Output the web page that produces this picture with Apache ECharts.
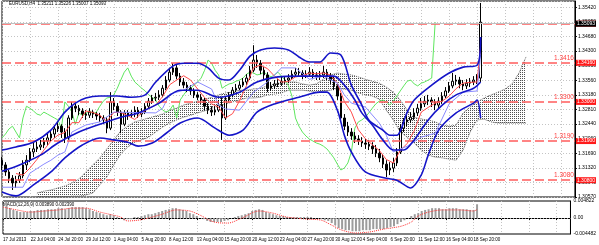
<!DOCTYPE html>
<html><head><meta charset="utf-8">
<script src="https://cdn.jsdelivr.net/npm/echarts@6/dist/echarts.min.js"></script>
<style>html,body{margin:0;padding:0;background:#fff}#c{width:599px;height:245px}</style>
</head><body><div id="c"></div>
<script>
const titleText = 'EURUSD,H4  1.35211 1.35226 1.35007 1.35093';
const macdTitle = 'MACD(12,26,9) 0.003890 0.002390';
const timeLabels = ['17 Jul 2013','22 Jul 04:00','24 Jul 20:00','29 Jul 12:00','1 Aug 04:00','5 Aug 20:00','8 Aug 12:00','13 Aug 04:00','15 Aug 20:00','20 Aug 12:00','23 Aug 04:00','27 Aug 20:00','30 Aug 12:00','4 Sep 04:00','6 Sep 20:00','11 Sep 12:00','16 Sep 04:00','18 Sep 20:00'];
const yTickLabels = ['1.30570','1.30940','1.31320','1.31690','1.32060','1.32440','1.32810','1.33180','1.33560','1.33930','1.34300','1.34680','1.35050','1.35420'];
const macdLabels = {max:'0.004822', zero:'0.00', min:'-0.004482'};

const opens = [1.3151,1.3139,1.3121,1.3105,1.3093,1.3100,1.3111,1.3139,1.3151,1.3172,
1.3180,1.3185,1.3190,1.3200,1.3208,1.3218,1.3231,1.3238,1.3223,1.3208,
1.3259,1.3289,1.3284,1.3277,1.3269,1.3266,1.3274,1.3269,1.3264,1.3259,
1.3254,1.3233,1.3300,1.3289,1.3274,1.3243,1.3272,1.3266,1.3269,1.3279,
1.3269,1.3274,1.3289,1.3302,1.3310,1.3312,1.3318,1.3335,1.3356,1.3376,
1.3387,1.3366,1.3351,1.3343,1.3335,1.3328,1.3318,1.3312,1.3305,1.3289,
1.3279,1.3274,1.3279,1.3292,1.3259,1.3305,1.3318,1.3330,1.3335,1.3343,
1.3351,1.3361,1.3381,1.3407,1.3399,1.3381,1.3369,1.3335,1.3341,1.3346,
1.3348,1.3353,1.3356,1.3361,1.3371,1.3376,1.3374,1.3369,1.3371,1.3376,
1.3369,1.3364,1.3369,1.3376,1.3366,1.3356,1.3341,1.3315,1.3259,1.3238,
1.3223,1.3213,1.3205,1.3200,1.3195,1.3192,1.3187,1.3180,1.3169,1.3157,
1.3141,1.3126,1.3131,1.3144,1.3172,1.3233,1.3249,1.3254,1.3261,1.3272,
1.3284,1.3295,1.3302,1.3305,1.3300,1.3292,1.3302,1.3315,1.3328,1.3341,
1.3353,1.3356,1.3346,1.3341,1.3348,1.3351,1.3356,1.3361];
const closes = [1.3139,1.3121,1.3105,1.3093,1.3100,1.3111,1.3139,1.3151,1.3172,1.3180,
1.3185,1.3190,1.3200,1.3208,1.3218,1.3231,1.3238,1.3223,1.3208,1.3259,
1.3289,1.3284,1.3277,1.3269,1.3266,1.3274,1.3269,1.3264,1.3259,1.3254,
1.3233,1.3300,1.3289,1.3274,1.3243,1.3272,1.3266,1.3269,1.3279,1.3269,
1.3274,1.3289,1.3302,1.3310,1.3312,1.3318,1.3335,1.3356,1.3376,1.3387,
1.3366,1.3351,1.3343,1.3335,1.3328,1.3318,1.3312,1.3305,1.3289,1.3279,
1.3274,1.3279,1.3292,1.3259,1.3305,1.3318,1.3330,1.3335,1.3343,1.3351,
1.3361,1.3381,1.3407,1.3399,1.3381,1.3369,1.3335,1.3341,1.3346,1.3348,
1.3353,1.3356,1.3361,1.3371,1.3376,1.3374,1.3369,1.3371,1.3376,1.3369,
1.3364,1.3369,1.3376,1.3366,1.3356,1.3341,1.3315,1.3259,1.3238,1.3223,
1.3213,1.3205,1.3200,1.3195,1.3192,1.3187,1.3180,1.3169,1.3157,1.3141,
1.3126,1.3131,1.3144,1.3172,1.3233,1.3249,1.3254,1.3261,1.3272,1.3284,
1.3295,1.3302,1.3305,1.3300,1.3292,1.3302,1.3315,1.3328,1.3341,1.3353,
1.3356,1.3346,1.3341,1.3348,1.3351,1.3356,1.3361,1.3504];
const lows = [1.3126,1.3111,1.3093,1.3075,1.3080,1.3093,1.3105,1.3126,1.3146,1.3159,
1.3172,1.3177,1.3182,1.3190,1.3200,1.3208,1.3223,1.3208,1.3195,1.3203,
1.3254,1.3274,1.3266,1.3259,1.3254,1.3259,1.3259,1.3254,1.3249,1.3243,
1.3220,1.3228,1.3279,1.3264,1.3220,1.3238,1.3254,1.3259,1.3261,1.3259,
1.3261,1.3269,1.3284,1.3295,1.3302,1.3305,1.3312,1.3330,1.3351,1.3369,
1.3358,1.3341,1.3335,1.3325,1.3318,1.3310,1.3305,1.3295,1.3279,1.3269,
1.3264,1.3266,1.3274,1.3203,1.3254,1.3300,1.3312,1.3325,1.3330,1.3338,
1.3343,1.3356,1.3376,1.3387,1.3371,1.3358,1.3325,1.3328,1.3333,1.3338,
1.3341,1.3346,1.3348,1.3356,1.3364,1.3364,1.3358,1.3361,1.3366,1.3358,
1.3356,1.3356,1.3361,1.3356,1.3346,1.3330,1.3305,1.3249,1.3228,1.3213,
1.3203,1.3195,1.3190,1.3185,1.3180,1.3177,1.3167,1.3159,1.3146,1.3131,
1.3108,1.3113,1.3121,1.3136,1.3167,1.3223,1.3238,1.3246,1.3254,1.3264,
1.3277,1.3287,1.3292,1.3287,1.3279,1.3284,1.3295,1.3310,1.3323,1.3335,
1.3343,1.3335,1.3330,1.3333,1.3338,1.3343,1.3346,1.3351];
const highs = [1.3159,1.3146,1.3126,1.3113,1.3111,1.3121,1.3151,1.3164,1.3182,1.3195,
1.3200,1.3203,1.3208,1.3220,1.3228,1.3241,1.3249,1.3243,1.3233,1.3266,
1.3300,1.3297,1.3292,1.3284,1.3279,1.3284,1.3279,1.3274,1.3272,1.3266,
1.3261,1.3325,1.3310,1.3297,1.3279,1.3279,1.3279,1.3279,1.3289,1.3287,
1.3284,1.3297,1.3310,1.3318,1.3323,1.3330,1.3343,1.3366,1.3387,1.3399,
1.3394,1.3374,1.3361,1.3351,1.3343,1.3335,1.3325,1.3320,1.3310,1.3297,
1.3289,1.3289,1.3305,1.3312,1.3315,1.3325,1.3338,1.3346,1.3353,1.3361,
1.3371,1.3392,1.3445,1.3420,1.3407,1.3389,1.3376,1.3351,1.3356,1.3358,
1.3364,1.3366,1.3371,1.3381,1.3387,1.3387,1.3381,1.3381,1.3389,1.3384,
1.3376,1.3379,1.3392,1.3384,1.3374,1.3364,1.3346,1.3323,1.3269,1.3249,
1.3233,1.3223,1.3215,1.3210,1.3205,1.3203,1.3197,1.3190,1.3180,1.3167,
1.3151,1.3146,1.3157,1.3182,1.3243,1.3259,1.3266,1.3274,1.3284,1.3295,
1.3310,1.3315,1.3318,1.3312,1.3307,1.3312,1.3325,1.3338,1.3351,1.3374,
1.3369,1.3364,1.3356,1.3358,1.3361,1.3366,1.3371,1.3553];

const bbUpper = [[0,1.3177],[4,1.3185],[9,1.3197],[14,1.3228],[18,1.3274],[21,1.3297],[24,1.3310],[28,1.3315],[33,1.3315],[37,1.3312],[41,1.3318],[44,1.3351],[49,1.3392],[52,1.3399],[56,1.3399],[59,1.3387],[62,1.3361],[65,1.3356],[68,1.3381],[71,1.3417],[74,1.3433],[78,1.3438],[82,1.3433],[85,1.3415],[88,1.3402],[91,1.3402],[94,1.3425],[97,1.3420],[100,1.3343],[103,1.3292],[105,1.3254],[109,1.3228],[111,1.3215],[113,1.3215],[116,1.3274],[118,1.3305],[123,1.3343],[128,1.3374],[132,1.3389],[136,1.3394],[137,1.3466]];
const bbMiddle = [[0,1.3123],[5,1.3139],[11,1.3164],[16,1.3195],[22,1.3223],[28,1.3243],[34,1.3261],[39,1.3272],[45,1.3297],[51,1.3330],[56,1.3330],[62,1.3312],[68,1.3325],[73,1.3351],[79,1.3364],[85,1.3366],[91,1.3366],[95,1.3366],[98,1.3343],[101,1.3305],[103,1.3272],[106,1.3241],[109,1.3203],[112,1.3177],[115,1.3177],[118,1.3203],[122,1.3254],[126,1.3292],[130,1.3318],[135,1.3335],[137,1.3351]];
const bbLower = [[0,1.3070],[4,1.3060],[9,1.3088],[14,1.3121],[18,1.3157],[23,1.3190],[28,1.3208],[32,1.3203],[36,1.3197],[39,1.3187],[43,1.3195],[47,1.3220],[51,1.3246],[56,1.3259],[61,1.3233],[65,1.3215],[69,1.3228],[73,1.3274],[78,1.3295],[85,1.3312],[91,1.3325],[93,1.3325],[96,1.3279],[98,1.3215],[100,1.3172],[104,1.3121],[110,1.3105],[113,1.3100],[117,1.3080],[120,1.3113],[122,1.3164],[125,1.3228],[130,1.3272],[135,1.3297],[136,1.3305],[137,1.3259]];
const tenkan = [[4,1.3117],[6,1.3113],[8,1.3131],[10,1.3153],[12,1.3177],[14,1.3200],[16,1.3215],[18,1.3222],[20,1.3247],[22,1.3247],[24,1.3277],[26,1.3273],[28,1.3266],[30,1.3250],[32,1.3273],[34,1.3273],[36,1.3265],[38,1.3255],[40,1.3272],[42,1.3284],[44,1.3292],[46,1.3314],[48,1.3344],[50,1.3356],[52,1.3367],[54,1.3356],[56,1.3333],[58,1.3311],[60,1.3295],[62,1.3287],[64,1.3259],[66,1.3270],[68,1.3303],[70,1.3342],[72,1.3388],[74,1.3394],[76,1.3385],[78,1.3366],[80,1.3351],[82,1.3352],[84,1.3364],[86,1.3367],[88,1.3374],[90,1.3372],[92,1.3374],[94,1.3369],[96,1.3348],[98,1.3301],[100,1.3274],[102,1.3229],[104,1.3206],[106,1.3191],[108,1.3176],[110,1.3153],[112,1.3144],[114,1.3176],[116,1.3194],[118,1.3226],[120,1.3274],[122,1.3286],[124,1.3297],[126,1.3302],[128,1.3315],[130,1.3334],[132,1.3348],[134,1.3350],[136,1.3351],[137,1.3443]];
const kijun = [[0,1.3082],[6,1.3082],[8,1.3118],[12,1.3141],[14,1.3151],[16,1.3164],[18,1.3172],[20,1.3223],[24,1.3241],[28,1.3249],[32,1.3274],[44,1.3272],[46,1.3284],[48,1.3320],[52,1.3330],[56,1.3351],[60,1.3333],[62,1.3292],[64,1.3282],[68,1.3279],[72,1.3325],[76,1.3351],[80,1.3387],[84,1.3387],[88,1.3358],[92,1.3366],[96,1.3348],[98,1.3318],[100,1.3297],[104,1.3287],[108,1.3246],[110,1.3215],[112,1.3172],[116,1.3187],[120,1.3210],[124,1.3220],[128,1.3295],[132,1.3325],[136,1.3328],[137,1.3420]];
const cloudTop = [[10,1.3067],[12,1.3072],[14,1.3075],[16,1.3080],[18,1.3085],[20,1.3093],[22,1.3103],[24,1.3121],[26,1.3139],[28,1.3157],[30,1.3180],[32,1.3203],[34,1.3226],[36,1.3238],[38,1.3249],[40,1.3254],[42,1.3259],[44,1.3264],[46,1.3269],[48,1.3279],[50,1.3284],[52,1.3292],[54,1.3297],[56,1.3302],[58,1.3307],[60,1.3312],[62,1.3318],[64,1.3323],[66,1.3325],[68,1.3330],[70,1.3330],[72,1.3333],[74,1.3335],[76,1.3341],[78,1.3346],[80,1.3348],[82,1.3351],[84,1.3351],[86,1.3346],[88,1.3343],[90,1.3346],[92,1.3358],[94,1.3369],[96,1.3374],[98,1.3371],[100,1.3369],[102,1.3364],[104,1.3358],[106,1.3353],[108,1.3348],[110,1.3338],[112,1.3325],[114,1.3305],[116,1.3279],[118,1.3261],[120,1.3256],[122,1.3254],[124,1.3249],[126,1.3241],[128,1.3238],[130,1.3241],[132,1.3272],[134,1.3287],[136,1.3300],[138,1.3310],[140,1.3318],[142,1.3325],[144,1.3333],[146,1.3346],[148,1.3374],[150,1.3415]];
const cloudBottom = [[10,1.3057],[12,1.3057],[14,1.3057],[16,1.3057],[18,1.3057],[20,1.3059],[22,1.3059],[24,1.3062],[26,1.3067],[28,1.3088],[30,1.3108],[32,1.3139],[34,1.3167],[36,1.3185],[38,1.3197],[40,1.3203],[42,1.3210],[44,1.3223],[46,1.3236],[48,1.3246],[50,1.3254],[52,1.3261],[54,1.3266],[56,1.3272],[58,1.3277],[60,1.3284],[62,1.3289],[64,1.3295],[66,1.3300],[68,1.3305],[70,1.3310],[72,1.3310],[74,1.3312],[76,1.3318],[78,1.3320],[80,1.3323],[82,1.3330],[84,1.3330],[86,1.3330],[88,1.3328],[90,1.3325],[92,1.3328],[94,1.3330],[96,1.3335],[98,1.3333],[100,1.3330],[102,1.3323],[104,1.3318],[106,1.3315],[108,1.3307],[110,1.3279],[112,1.3254],[114,1.3223],[116,1.3210],[118,1.3195],[120,1.3177],[122,1.3164],[124,1.3159],[126,1.3157],[128,1.3154],[130,1.3151],[132,1.3177],[134,1.3223],[136,1.3254],[138,1.3256],[140,1.3249],[142,1.3246],[144,1.3246],[146,1.3246],[148,1.3246],[150,1.3246]];
const chikouShift = 13;

const macdHist = [0.0037,0.0034,0.0028,0.0023,0.0020,0.0017,0.0017,0.0017,0.0020,0.0020,
0.0023,0.0023,0.0023,0.0025,0.0025,0.0025,0.0028,0.0028,0.0025,0.0028,
0.0031,0.0031,0.0031,0.0031,0.0028,0.0025,0.0020,0.0017,0.0014,0.0011,
0.0008,0.0011,0.0008,0.0003,0,-0.0006,-0.0003,-0.0003,0.0003,0.0003,
0.0006,0.0008,0.0011,0.0011,0.0014,0.0017,0.0020,0.0023,0.0025,0.0028,
0.0028,0.0025,0.0023,0.0020,0.0014,0.0011,0.0006,0,-0.0003,-0.0008,
-0.0011,-0.0011,-0.0011,-0.0011,-0.0008,-0.0006,0,0.0003,0.0006,0.0008,
0.0011,0.0014,0.0020,0.0023,0.0025,0.0023,0.0017,0.0014,0.0011,0.0008,
0.0006,0.0006,0.0003,0.0003,0.0003,0.0003,0.0003,0.0003,0.0003,0.0003,
0,0,-0.0003,-0.0006,-0.0008,-0.0014,-0.0020,-0.0028,-0.0031,-0.0034,
-0.0034,-0.0037,-0.0037,-0.0037,-0.0034,-0.0034,-0.0034,-0.0031,-0.0031,-0.0031,
-0.0031,-0.0028,-0.0025,-0.0023,-0.0017,-0.0011,-0.0006,0,0.0006,0.0011,
0.0014,0.0020,0.0023,0.0025,0.0028,0.0028,0.0028,0.0025,0.0025,0.0028,
0.0028,0.0028,0.0025,0.0025,0.0025,0.0023,0.0023,0.0039];
const macdSignal = [[0,0.0031],[4,0.0023],[8,0.0017],[12,0.0020],[16,0.0023],[20,0.0028],[24,0.0028],[28,0.0017],[32,0.0008],[34,0.0003],[36,-0.0008],[39,-0.0006],[42,0],[46,0.0011],[50,0.0023],[54,0.0020],[57,0.0008],[61,-0.0011],[65,-0.0014],[69,0],[74,0.0020],[78,0.0014],[82,0.0003],[88,-0.0003],[92,-0.0006],[95,-0.0020],[98,-0.0034],[102,-0.0042],[106,-0.0039],[110,-0.0031],[115,-0.0023],[118,-0.0011],[120,0.0006],[123,0.0017],[127,0.0023],[132,0.0023],[136,0.0020],[137,0.0024]];

const levelValues = [1.3530, 1.3420, 1.3300, 1.3190, 1.3080];
const levelBoxes = ['1.35300','1.34160','1.33000','1.31900','1.30800'];
const levelTexts = ['', '1.3416', '1.3300', '1.3190', '1.3080'];
const lastPrice = 1.35093;
const lastPriceLabel = '1.35093';

const N = 165;
const categories = Array.from({length: N}, (_, j) => (j % 8 === 0 && j / 8 < timeLabels.length) ? timeLabels[j / 8] : '');
const yMin = 1.3057, yMax = 1.3558, yStep = 1.3057 / 350;
const macdMin = -0.004482, macdMax = 0.004822;
function yFmt(v) {
  const k = Math.round((v - yMin) / yStep);
  if (k < 0 || k >= yTickLabels.length || Math.abs(yMin + k * yStep - v) > 1e-7) return '';
  return yTickLabels[k];
}
function mFmt(v) {
  if (Math.abs(v) < 1e-9) return macdLabels.zero;
  if (Math.abs(v - macdMax) < 1e-9) return macdLabels.max;
  if (Math.abs(v - macdMin) < 1e-9) return macdLabels.min;
  return '';
}
const pc = document.createElement('canvas'); pc.width = 2; pc.height = 2;
const pg = pc.getContext('2d'); pg.fillStyle = '#505050'; pg.fillRect(0, 0, 1, 1);

const candleData = opens.map((o, i) => [o, closes[i], lows[i], highs[i]]);
const chikou = closes.slice(chikouShift).map((v, i) => [i, v]);
const cloudThick = cloudTop.map((p, k) => [p[0], +(p[1] - cloudBottom[k][1]).toFixed(5)]);
const grid = {color: '#c4c4c4', type: [1, 2], width: 1};
const small = 'Liberation Sans, Arial, sans-serif';

const boxLines = levelValues.map((v, k) => ({yAxis: v, lineStyle: {color: '#ff5c5c', type: [9, 4], width: 1.5},
  label: {show: true, position: 'end', distance: 1, formatter: levelBoxes[k], backgroundColor: '#ff1a1a', color: '#fff', fontSize: 5, padding: [1, 1, 0, 1]}}));
const textLines = levelValues.map((v, k) => ({yAxis: v, lineStyle: {color: 'rgba(255,255,255,0)', width: 1},
  label: {show: true, position: 'insideEndTop', distance: 1, formatter: levelTexts[k], color: '#ff4040', fontSize: 6.5, opacity: 1}}));
const priceLine = {yAxis: lastPrice, lineStyle: {color: '#c0c0c0', type: 'solid', width: 1},
  label: {show: true, position: 'end', distance: 1, formatter: lastPriceLabel, backgroundColor: '#000', color: '#fff', fontSize: 5, padding: [1, 1, 0, 1]}};

const option = {
  animation: false,
  textStyle: {fontFamily: small},
  title: [
    {text: titleText, left: 9, top: 1, padding: 0, textStyle: {fontSize: 4.5, fontWeight: 'normal', color: '#000', fontFamily: small}},
    {text: macdTitle, left: 3, top: 202, padding: 0, textStyle: {fontSize: 4.5, fontWeight: 'normal', color: '#000', fontFamily: small}}
  ],
  grid: [
    {left: 2, right: 21, top: 1, height: 196, show: true, borderColor: '#000', borderWidth: 1},
    {left: 2, right: 21, top: 201, height: 33, show: true, borderColor: '#000', borderWidth: 1}
  ],
  xAxis: [
    {type: 'category', gridIndex: 0, data: categories, boundaryGap: false, axisLine: {show: false}, axisTick: {show: false}, axisLabel: {show: false}, splitLine: {show: true, interval: 7, lineStyle: grid}},
    {type: 'category', gridIndex: 1, data: categories, boundaryGap: false, axisLine: {show: true, lineStyle: {color: '#000'}}, axisTick: {show: true, interval: 7, length: 2, lineStyle: {color: '#000'}}, axisLabel: {interval: 7, align: 'left', fontSize: 4.5, margin: 3, color: '#000'}, splitLine: {show: true, interval: 7, lineStyle: grid}}
  ],
  yAxis: [
    {type: 'value', gridIndex: 0, position: 'right', min: yMin, max: yMax, interval: yStep, axisLine: {show: true, lineStyle: {color: '#000'}}, axisTick: {show: true, length: 2, lineStyle: {color: '#000'}}, axisLabel: {fontSize: 5, margin: 3, color: '#000', formatter: yFmt, showMaxLabel: false, showMinLabel: true}, splitLine: {show: true, lineStyle: grid}},
    {type: 'value', gridIndex: 1, position: 'right', min: macdMin, max: macdMax, interval: -macdMin, axisLine: {show: true, lineStyle: {color: '#000'}}, axisTick: {show: false}, axisLabel: {fontSize: 5, margin: 3, color: '#000', formatter: mFmt, showMaxLabel: true, showMinLabel: true}, splitLine: {show: false}}
  ],
  series: [
    {type: 'line', name: 'cloudBase', stack: 'cloud', data: cloudBottom, symbol: 'none', lineStyle: {color: '#606060', width: 1, type: [1, 1]}, z: 1},
    {type: 'line', name: 'cloud', stack: 'cloud', data: cloudThick, symbol: 'none', lineStyle: {color: '#606060', width: 1, type: [1, 1]}, areaStyle: {color: {image: pc, repeat: 'repeat'}, opacity: 1}, z: 1},
    {type: 'line', name: 'chikou', data: chikou, symbol: 'none', lineStyle: {color: '#5ee65e', width: 1}, z: 2},
    {type: 'candlestick', name: 'EURUSD', data: candleData, barWidth: 2,
      itemStyle: {color: '#ffffff', color0: '#000000', borderColor: '#000000', borderColor0: '#000000', borderWidth: 1}, z: 3,
      markLine: {silent: true, symbol: ['none', 'none'], animation: false, data: boxLines.concat([priceLine])}},
    {type: 'line', name: 'tenkan', data: tenkan, symbol: 'none', lineStyle: {color: '#ff4a4a', width: 1}, z: 4},
    {type: 'line', name: 'kijun', data: kijun, symbol: 'none', lineStyle: {color: '#8a8aff', width: 1}, z: 4,
      markLine: {silent: true, symbol: ['none', 'none'], animation: false, data: textLines.filter((d, k) => levelTexts[k] !== '')}},
    {type: 'line', name: 'bbUpper', data: bbUpper, symbol: 'none', smooth: 0.3, lineStyle: {color: '#1414c8', width: 1.6}, z: 5},
    {type: 'line', name: 'bbMiddle', data: bbMiddle, symbol: 'none', smooth: 0.3, lineStyle: {color: '#1414c8', width: 1.6}, z: 5},
    {type: 'line', name: 'bbLower', data: bbLower, symbol: 'none', smooth: 0.3, lineStyle: {color: '#1414c8', width: 1.6}, z: 5},
    {type: 'bar', name: 'MACD', xAxisIndex: 1, yAxisIndex: 1, data: macdHist, barWidth: 2, itemStyle: {color: '#9c9c9c'},
      markLine: {silent: true, symbol: ['none', 'none'], label: {show: false}, lineStyle: {color: '#a0a0a0', type: [1, 2], width: 1}, data: [{yAxis: 0}]}},
    {type: 'line', name: 'Signal', xAxisIndex: 1, yAxisIndex: 1, data: macdSignal, symbol: 'none', smooth: 0.3, lineStyle: {color: '#ff3030', width: 1, type: [1, 1]}}
  ]
};
const chart = echarts.init(document.getElementById('c'), null, {renderer: 'canvas'});
chart.setOption(option);
</script>
</body></html>
